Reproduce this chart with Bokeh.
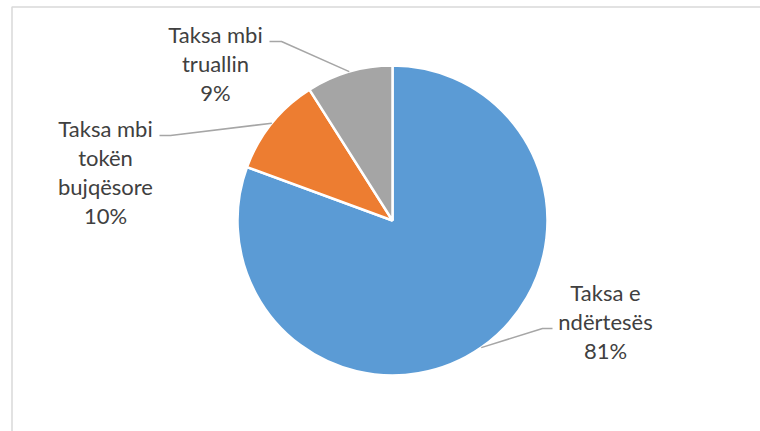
import numpy as np
from bokeh.plotting import figure
from bokeh.models import Range1d
from bokeh.core.properties import value
from bokeh.embed import file_html
from bokeh.resources import INLINE

# ---- data ----
categories = ["Taksa e ndërtesës", "Taksa mbi tokën bujqësore", "Taksa mbi truallin"]
label_lines = [["Taksa e", "ndërtesës"], ["Taksa mbi", "tokën", "bujqësore"], ["Taksa mbi", "truallin"]]
shares = [80.6, 10.4, 9.0]
colors = ["#5b9bd5", "#ed7d31", "#a5a5a5"]

# ---- layout (pixel coords, origin top-left) ----
W, H = 760, 431
CX, CY, R = 392, 220, 155
label_anchor = [(605, 292), (105, 128), (215, 34)]    # centre x, first-line y
leader_start = [(552, 328), (159, 135), (269, 41)]
leader_knee = [(542, 328), (170, 135), (281, 41)]
LINE_H = 29

def fx(x):
    return x

def fy(y):
    return H - y

p = figure(width=W, height=H, x_range=Range1d(0, W), y_range=Range1d(0, H),
           output_backend="svg", toolbar_location=None, min_border=0,
           background_fill_color="white", border_fill_color="white")
p.axis.visible = False
p.grid.visible = False
p.outline_line_color = None

# chart-area border (top and left visible)
p.line([11.5, 11.5, W], [0, fy(6.5), fy(6.5)], line_color="#d9d9d9", line_width=1.5)

total = float(sum(shares))
fr = np.array(shares) / total
cum_end = np.cumsum(fr)
cum_start = cum_end - fr
start_angles = np.pi / 2 - 2 * np.pi * cum_end
end_angles = np.pi / 2 - 2 * np.pi * cum_start
mid_angles = (start_angles + end_angles) / 2

p.wedge(x=[fx(CX)] * 3, y=[fy(CY)] * 3, radius=R,
        start_angle=list(start_angles), end_angle=list(end_angles),
        fill_color=colors, line_color="white", line_width=2.5)

for i in range(3):
    ex = CX + R * np.cos(mid_angles[i])
    ey = CY - R * np.sin(mid_angles[i])
    xs = [leader_start[i][0], leader_knee[i][0], ex]
    ys = [leader_start[i][1], leader_knee[i][1], ey]
    p.line([fx(x) for x in xs], [fy(y) for y in ys], line_color="#a6a6a6", line_width=1.5)
    lines = label_lines[i] + ["%d%%" % round(shares[i])]
    ax, ay = label_anchor[i]
    p.text(x=[fx(ax)] * len(lines), y=[fy(ay + k * LINE_H) for k in range(len(lines))],
           text=lines, text_align="center", text_baseline="middle",
           text_font=value("Lato"), text_font_size="22px", text_color="#404040")

open("out.html", "w").write(file_html(p, INLINE))
